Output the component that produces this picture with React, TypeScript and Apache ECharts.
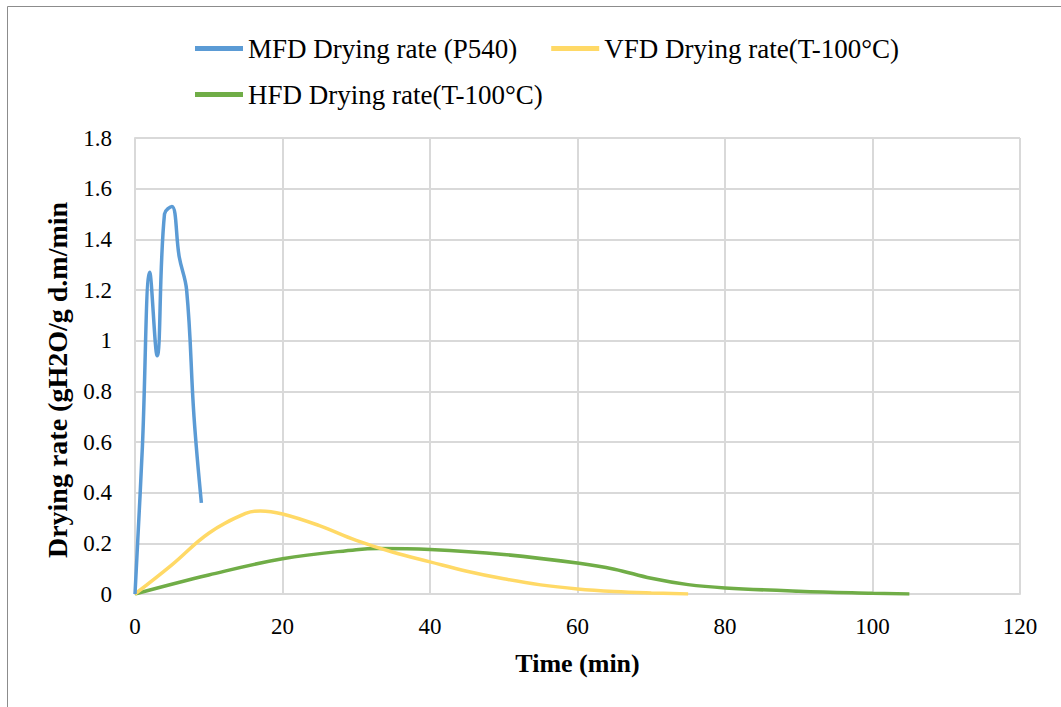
import React, { useEffect, useRef } from "react";
import * as echarts from "echarts";

const mfdTime = [0, 1, 2, 3, 4, 5, 6, 7, 8, 9];
const mfdRate = [0, 0.58, 1.27, 0.94, 1.5, 1.53, 1.33, 1.2, 0.7, 0.36];

const vfdTime = [0, 5, 10, 15, 17, 20, 25, 30, 35, 40, 45, 50, 55, 60, 65, 70, 75];
const vfdRate = [0, 0.115, 0.24, 0.318, 0.328, 0.316, 0.27, 0.212, 0.165, 0.127, 0.09, 0.06, 0.036, 0.02, 0.01, 0.004, 0];

const hfdTime = [0, 10, 20, 30, 33, 40, 50, 60, 65, 70, 75, 80, 90, 100, 105];
const hfdRate = [0, 0.075, 0.139, 0.175, 0.18, 0.176, 0.156, 0.122, 0.098, 0.062, 0.037, 0.024, 0.011, 0.003, 0];

const yTicks = ["0", "0.2", "0.4", "0.6", "0.8", "1", "1.2", "1.4", "1.6", "1.8"];

const names = [
  "MFD Drying rate (P540)",
  "VFD Drying rate(T-100°C)",
  "HFD Drying rate(T-100°C)",
];
const colors = ["#5b9bd5", "#ffd966", "#70ad47"];

const zip = (xs: number[], ys: number[]) => xs.map((x, i) => [x, ys[i]]);

export default function App() {
  const ref = useRef<HTMLDivElement>(null);
  useEffect(() => {
    if (!ref.current) return;
    const chart = echarts.init(ref.current, undefined, { renderer: "svg" });
    const font = "Liberation Serif";
    const legendText = { fontFamily: font, fontSize: 27, color: "#000" };
    chart.setOption({
      animation: false,
      backgroundColor: "#fff",
      textStyle: { fontFamily: font },
      graphic: [
        {
          type: "rect",
          shape: { x: 7.5, y: 6.5, width: 1100, height: 800 },
          style: { fill: "none", stroke: "#8c8c8c", lineWidth: 1 },
          silent: true,
        },
      ],
      legend: [
        {
          data: [names[0], names[1]],
          left: 190,
          top: 30,
          itemWidth: 48,
          itemHeight: 5,
          itemGap: 34,
          icon: "rect",
          textStyle: legendText,
        },
        {
          data: [names[2]],
          left: 190,
          top: 76,
          itemWidth: 48,
          itemHeight: 5,
          icon: "rect",
          textStyle: legendText,
        },
      ],
      grid: { left: 135, right: 41, top: 138, bottom: 113, containLabel: false },
      xAxis: {
        type: "value",
        min: 0,
        max: 120,
        interval: 20,
        name: "Time (min)",
        nameLocation: "middle",
        nameGap: 56,
        nameTextStyle: { fontFamily: font, fontSize: 26, fontWeight: "bold", color: "#000" },
        axisLine: { show: true, lineStyle: { color: "#d9d9d9", width: 2 } },
        axisTick: { show: false },
        axisLabel: { fontFamily: font, fontSize: 23, color: "#000", margin: 21 },
        splitLine: { show: true, lineStyle: { color: "#d9d9d9", width: 2 } },
      },
      yAxis: {
        type: "value",
        min: 0,
        max: 1.8,
        interval: 0.2,
        name: "Drying rate (gH2O/g d.m/min",
        nameLocation: "middle",
        nameGap: 64,
        nameRotate: 90,
        nameTextStyle: {
          fontFamily: font,
          fontSize: 28,
          fontWeight: "bold",
          color: "#000",
          padding: [0, 28, 0, 0],
        },
        axisLine: { show: true, lineStyle: { color: "#d9d9d9", width: 2 } },
        axisTick: { show: false },
        axisLabel: {
          fontFamily: font,
          fontSize: 23,
          color: "#000",
          margin: 23,
          formatter: (v: number) => yTicks[Math.round(v / 0.2)] ?? String(v),
        },
        splitLine: { show: true, lineStyle: { color: "#d9d9d9", width: 2 } },
      },
      series: [
        { t: mfdTime, r: mfdRate },
        { t: vfdTime, r: vfdRate },
        { t: hfdTime, r: hfdRate },
      ].map((s, i) => ({
        name: names[i],
        type: "line",
        data: zip(s.t, s.r),
        smooth: 0.4,
        showSymbol: false,
        symbol: "none",
        lineStyle: { color: colors[i], width: 3.5 },
        itemStyle: { color: colors[i] },
        z: 10 - i,
      })),
    });
    return () => chart.dispose();
  }, []);
  return (
    <div
      ref={ref}
      style={{ position: "fixed", left: 0, top: 0, width: 1061, height: 707 }}
    />
  );
}
